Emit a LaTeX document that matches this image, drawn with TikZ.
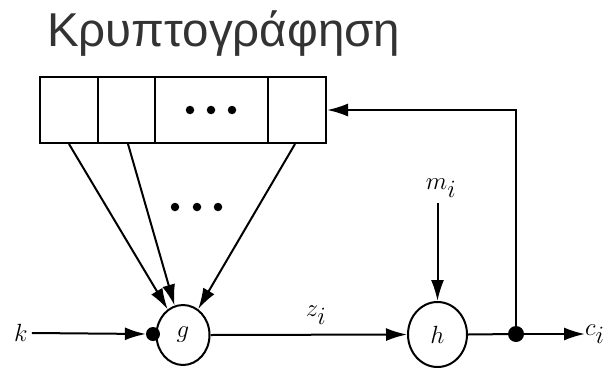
\documentclass[tikz,border=0pt]{standalone}
\usepackage{fontspec}
\setsansfont{Liberation Sans}
\usetikzlibrary{arrows.meta,shapes.geometric}
\definecolor{titlegray}{HTML}{333333}
\tikzset{
  ln/.style={line width=2pt},
  arr/.style={ln,-{Latex[length=21pt,width=13pt]}},
  cell/.style={draw,line width=2pt,rectangle,inner sep=0pt,minimum height=66pt},
  fun/.style={draw,line width=2pt,ellipse,inner sep=0pt,font=\fontsize{34}{38}\selectfont},
  lab/.style={inner sep=0pt,font=\fontsize{34}{38}\selectfont},
  bigdot/.style={circle,fill,inner sep=0pt,minimum size=#1},
  smalldot/.style={circle,fill,inner sep=0pt,minimum size=8.5pt}
}
\begin{document}
\begin{tikzpicture}[x=1pt,y=-1pt]
\useasboundingbox (0,0) rectangle (609,369);
% title
\node[anchor=base west,inner sep=0pt,text=titlegray,font=\sffamily\fontsize{47.5}{55}\selectfont] (title) at (47,47) {Κρυπτογράφηση};
% register
\node[cell,minimum width=58pt] (c1) at (69,110) {};
\node[cell,minimum width=57pt] (c2) at (126.5,110) {};
\node[cell,minimum width=113pt] (c3) at (211.5,110) {};
\node[cell,minimum width=58pt] (c4) at (297,110) {};
\node[smalldot] (d1) at (190,110) {};
\node[smalldot] (d2) at (211,110) {};
\node[smalldot] (d3) at (232,110) {};
% functions
\node[fun,minimum width=53pt,minimum height=60pt] (g) at (183,335) {$g$};
\node[fun,minimum width=59pt,minimum height=65pt] (h) at (437.5,334.5) {$h$};
% labels
\node[lab] (k) at (21,333) {$k$};
\node[lab] (m) at (441,188) {$m_i$};
\node[lab] (z) at (316,315) {$z_i$};
\node[lab,anchor=west] (c) at (585,334) {$c_i$};
% dots between lines
\node[smalldot] (e1) at (175,207) {};
\node[smalldot] (e2) at (197,207) {};
\node[smalldot] (e3) at (218,207) {};
% junction and input dot
\node[bigdot=16pt] (j) at (516,334) {};
\node[bigdot=14pt] (gd) at (153,334) {};
% connectors
\draw[arr] (c1.south) -- (g);
\draw[arr] ([xshift=1.5pt]c2.south) -- (g);
\draw[arr] ([xshift=-2pt]c4.south) -- (g);
\draw[arr] (k.east) ++(4,0) -- (gd.west);
\draw[arr] (g.east) -- (h.west);
\draw[arr] (m.south -| h.north) ++(0,6) -- (h.north);
\draw[ln] (h.east) -- (j.center);
\draw[arr] (j.center) -- (c.west);
\draw[arr] (j.center) |- (c4.east);
\end{tikzpicture}
\end{document}
